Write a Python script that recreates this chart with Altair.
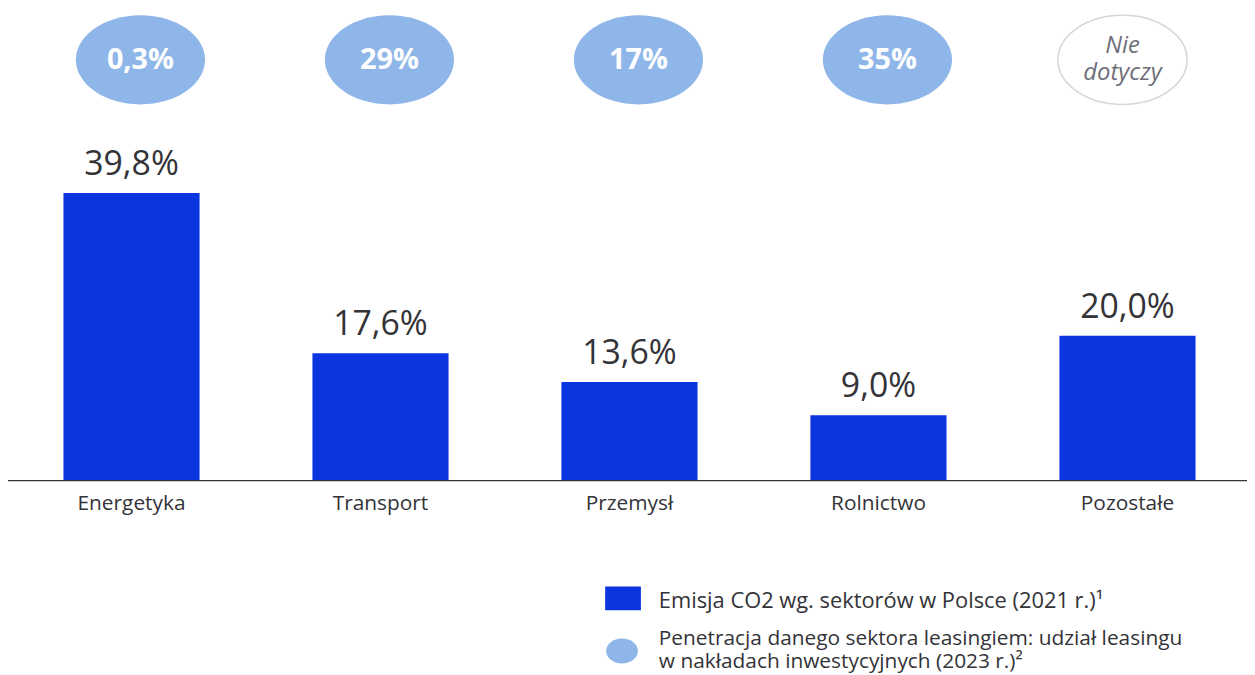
import altair as alt
import pandas as pd

categories = ["Energetyka", "Transport", "Przemysł", "Rolnictwo", "Pozostałe"]
emissions = [39.8, 17.6, 13.6, 9.0, 20.0]
emission_labels = ["39,8%", "17,6%", "13,6%", "9,0%", "20,0%"]
penetration_labels = ["0,3%", "29%", "17%", "35%", "Nie\ndotyczy"]
penetration_applicable = [True, True, True, True, False]

legend_labels = [
    "Emisja CO2 wg. sektorów w Polsce (2021 r.)¹",
    ["Penetracja danego sektora leasingiem: udział leasingu", "w nakładach inwestycyjnych (2023 r.)²"],
]

FONT = "Open Sans"
BAR = "#0B35DF"
BUBBLE = "#8FB6E8"
DARK = "#333338"

df = pd.DataFrame({
    "cat": categories,
    "val": emissions,
    "lab": emission_labels,
    "pen": penetration_labels,
    "app": penetration_applicable,
})


def xenc(rng, axis=None):
    return alt.X("cat:N", sort=categories,
                 scale=alt.Scale(domain=categories, paddingInner=0, paddingOuter=0, range=rng),
                 axis=axis)


bar_axis = alt.Axis(title=None, ticks=False, labelAngle=0, labelFontSize=21,
                    labelFont=FONT, labelColor=DARK, labelPadding=13,
                    domainColor=DARK, domainWidth=1.2, grid=False)
BAR_RANGE = [-1, 1252]
BLUE_RANGE = [8, 1261]
NA_RANGE = [-6, 1247]

yscale = alt.Scale(domain=[0, 65.15])

base = alt.Chart(df)

bars = base.mark_bar(color=BAR, size=137).encode(
    x=xenc(BAR_RANGE, bar_axis), y=alt.Y("val:Q", scale=yscale, axis=None))

bar_text = base.mark_text(font=FONT, fontSize=34, color=DARK, baseline="alphabetic", dy=-18).encode(
    x=xenc(BAR_RANGE), y=alt.Y("val:Q", scale=yscale, axis=None), text="lab:N")

ellipse_path = "M -1 0 A 1 0.69 0 1 0 1 0 A 1 0.69 0 1 0 -1 0 Z"
legend_ellipse = "M -1 0 A 1 0.78 0 1 0 1 0 A 1 0.78 0 1 0 -1 0 Z"

bubbles = base.transform_filter("datum.app").mark_point(
    shape=ellipse_path, size=16900, filled=True, fill=BUBBLE, opacity=1, strokeWidth=0
).encode(x=xenc(BLUE_RANGE), y=alt.value(50))

bubble_na = base.transform_filter("!datum.app").mark_point(
    shape=ellipse_path, size=16900, filled=True, fill="white", stroke="#D6D6D6",
    strokeWidth=1.5, opacity=1
).encode(x=xenc(NA_RANGE), y=alt.value(50))

bubble_text = base.transform_filter("datum.app").mark_text(
    font=FONT, fontSize=29, fontWeight="bold", color="white", baseline="middle"
).encode(x=xenc(BLUE_RANGE), y=alt.value(50), text="pen:N")

na_text = base.transform_filter("!datum.app").transform_calculate(
    lines="split(datum.pen, '\\n')"
).mark_text(
    font=FONT, fontSize=24, fontStyle="italic", color="#6E6E7A", baseline="middle",
    lineHeight=27, dy=-14
).encode(x=xenc(NA_RANGE), y=alt.value(50), text="lines:N")

leg_df = pd.DataFrame({"i": [0, 1]})
leg_rect = alt.Chart(leg_df).transform_filter("datum.i == 0").mark_rect(color=BAR).encode(
    x=alt.value(601), x2=alt.value(637), y=alt.value(580), y2=alt.value(604))
leg_circle = alt.Chart(leg_df).transform_filter("datum.i == 1").mark_point(
    shape=legend_ellipse, size=1024, filled=True, color=BUBBLE, opacity=1).encode(
    x=alt.value(618), y=alt.value(645))
leg_t1 = alt.Chart(leg_df).transform_filter("datum.i == 0").mark_text(
    font=FONT, fontSize=22, color=DARK, align="left", baseline="middle").encode(
    x=alt.value(655), y=alt.value(595), text=alt.value(legend_labels[0]))
leg_t2 = alt.Chart(leg_df).transform_filter("datum.i == 1").mark_text(
    font=FONT, fontSize=21, color=DARK, align="left", baseline="middle", lineHeight=23).encode(
    x=alt.value(655), y=alt.value(633), text=alt.value(legend_labels[1]))

chart = alt.layer(
    bars, bar_text, bubbles, bubble_na, bubble_text, na_text,
    leg_rect, leg_circle, leg_t1, leg_t2
).resolve_scale(x="independent").properties(
    width=1247, height=473,
    background="white",
    autosize=alt.AutoSizeParams(type="none"),
    padding={"left": 0, "top": 0, "right": 0, "bottom": 194},
).configure_view(strokeWidth=0)

chart.save("out.html", embed_options={"renderer": "svg", "actions": False})
